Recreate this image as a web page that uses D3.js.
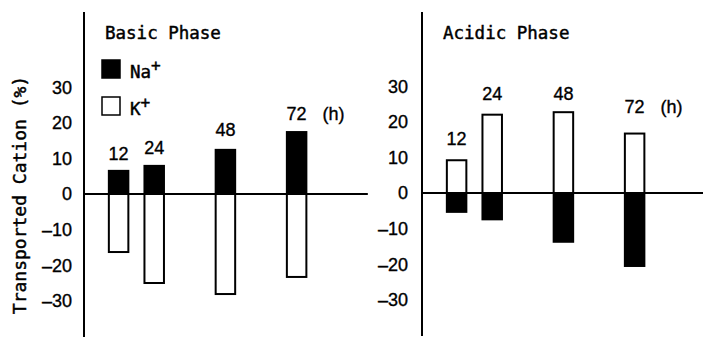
<!DOCTYPE html>
<html><head><meta charset="utf-8">
<script src="https://cdn.jsdelivr.net/npm/d3@7"></script>
<style>
body{margin:0;background:#fff;}
svg{display:block;}
.num{font-family:"Liberation Sans",Arial,sans-serif;font-size:18px;fill:#000;stroke:#000;stroke-width:0.35px;}
.mono{font-family:"DejaVu Sans Mono",monospace;fill:#000;stroke:#000;stroke-width:0.45px;}
</style></head>
<body>
<svg id="chart" width="703" height="337"></svg>
<script>
// ---- data ----
const hours = [12, 24, 48, 72];
const hourLabels = ["12", "24", "48", "72"];
const yTicks = [30, 20, 10, 0, -10, -20, -30];
const basicNa = [6.5, 7.9, 12.4, 17.4];
const basicK = [-16.3, -25.0, -28.1, -23.3];
const acidicNa = [-5.3, -7.4, -13.7, -20.5];
const acidicK = [9.2, 22.0, 22.7, 16.7];
// label baselines in value units
const basicLabelAt = [9.6, 11.2, 16.3, 20.8];
const acidicLabelAt = [13.5, 26.1, 26.1, 22.5];

const svg = d3.select("#chart");
const y = d3.scaleLinear().domain([-40, 51]).range([194 + 40 * 3.56, 194 - 51 * 3.56]);

function panel(axisX, dy, title, na, k, labelAt, showLegend, labelRightGap) {
  const g = svg.append("g").attr("transform", `translate(0,${dy})`);
  const x = d3.scaleLinear().domain([0, 96]).range([axisX - 1, axisX - 1 + 96 * 2.967]);
  const bw = 19.5;
  g.append("line").attr("x1", axisX).attr("x2", axisX).attr("y1", 12 - dy).attr("y2", 337)
    .attr("stroke", "#000").attr("stroke-width", 2);
  g.selectAll("text.tick").data(yTicks).enter().append("text")
    .attr("class", "num").attr("x", axisX - labelRightGap).attr("y", d => y(d)).attr("dy", "0.36em")
    .attr("text-anchor", "end").text(d => d === 0 ? "0" : String(d).replace("-", "\u2013"));
  g.selectAll("rect.k").data(hours).enter().append("rect")
    .attr("x", (h) => x(h) - bw / 2).attr("width", bw)
    .attr("y", (h, i) => Math.min(y(0), y(k[i]))).attr("height", (h, i) => Math.abs(y(k[i]) - y(0)))
    .attr("fill", "#fff").attr("stroke", "#000").attr("stroke-width", 2);
  g.selectAll("rect.na").data(hours).enter().append("rect")
    .attr("x", (h) => x(h) - bw / 2).attr("width", bw)
    .attr("y", (h, i) => Math.min(y(0), y(na[i]))).attr("height", (h, i) => Math.abs(y(na[i]) - y(0)))
    .attr("fill", "#000").attr("stroke", "#000").attr("stroke-width", 2);
  g.append("line").attr("x1", axisX).attr("x2", x(96)).attr("y1", y(0)).attr("y2", y(0))
    .attr("stroke", "#000").attr("stroke-width", 2);
  g.selectAll("text.hl").data(hours).enter().append("text")
    .attr("class", "num").attr("x", h => x(h)).attr("y", (h, i) => y(labelAt[i]))
    .attr("text-anchor", "middle").text((h, i) => hourLabels[i]);
  g.append("text").attr("class", "num").attr("x", x(72) + 26).attr("y", y(labelAt[3]))
    .text("(h)");
  g.append("text").attr("class", "mono").attr("x", axisX + 21).attr("y", 39 - dy)
    .attr("font-size", "17.5px").text(title);
  if (showLegend) {
    g.append("rect").attr("x", 102).attr("y", 60).attr("width", 18).attr("height", 18)
      .attr("fill", "#000").attr("stroke", "#000").attr("stroke-width", 1.5);
    g.append("rect").attr("x", 102).attr("y", 97).attr("width", 18).attr("height", 18)
      .attr("fill", "#fff").attr("stroke", "#000").attr("stroke-width", 1.5);
    const t1 = g.append("text").attr("class", "mono").attr("x", 130).attr("y", 78).attr("font-size", "17.5px");
    t1.append("tspan").text("Na");
    t1.append("tspan").attr("dy", -7).attr("font-size", "16px").text("+");
    const t2 = g.append("text").attr("class", "mono").attr("x", 130).attr("y", 115).attr("font-size", "17.5px");
    t2.append("tspan").text("K");
    t2.append("tspan").attr("dy", -7).attr("font-size", "16px").text("+");
  }
}

panel(84, 0, "Basic Phase", basicNa, basicK, basicLabelAt, true, 12);
panel(422, -1, "Acidic Phase", acidicNa, acidicK, acidicLabelAt, false, 14);

svg.append("text").attr("class", "mono").attr("font-size", "18px")
  .attr("transform", "translate(26,195) rotate(-90)").attr("text-anchor", "middle")
  .text("Transported Cation (%)");
</script>
</body></html>
